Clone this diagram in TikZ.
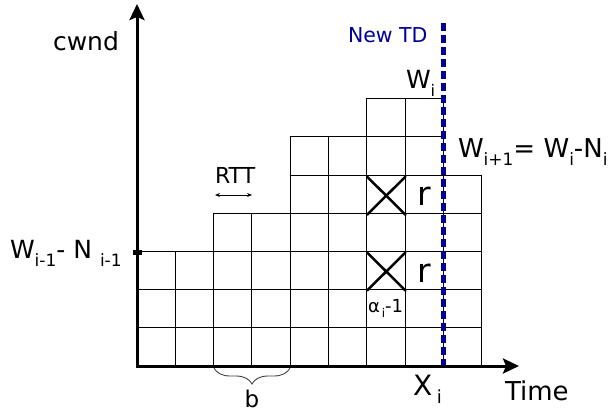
\documentclass[tikz,border=0pt]{standalone}
\usepackage{fontspec}
\setmainfont{DejaVu Sans}
\usetikzlibrary{arrows.meta,decorations.pathreplacing}
\definecolor{tdblue}{RGB}{0,0,150}
\newcommand\mysub[2]{\raisebox{-0.32em}{\fontsize{#1}{#1}\selectfont #2}}
\newcommand\fs[1]{\fontsize{#1}{#1}\selectfont}
\begin{document}
\begin{tikzpicture}[x=1pt,y=-1pt,
  cell/.style={draw=black,line width=1pt},
  axisline/.style={line width=3pt,{Stealth[length=16pt,width=15pt,inset=3pt]}-{Stealth[length=16pt,width=15pt,inset=3pt]}},
  cross/.style={line width=2.5pt,line cap=round},
  tdline/.style={draw=tdblue,line width=4.3pt,dash pattern=on 8pt off 4pt},
  lbl/.style={inner sep=0pt,outer sep=0pt}]
\useasboundingbox (0,0) rectangle (615,412);
% grid of cells
\foreach \c/\h in {0/3,1/3,2/4,3/4,4/6,5/6,6/7,7/7,8/5}{
  \foreach \r in {1,...,\h}{
    \draw[cell] ({137+38.3*\c},{366-38.2*(\r-1)}) rectangle ({137+38.3*(\c+1)},{366-38.2*\r});
  }
}
% crosses
\draw[cross] (367,214.8) -- (405.5,176.6) (367,176.6) -- (405.5,214.8);
\draw[cross] (367,290.6) -- (405.5,252.4) (367,252.4) -- (405.5,290.6);
% new TD line
\coordinate (tdtop) at (443.4,23);
\coordinate (tdbot) at (443.4,366);
\draw[tdline] (tdtop) -- (tdbot);
% axes
\coordinate (O) at (137,366);
\coordinate (ytop) at (137,4);
\coordinate (xend) at (519,366);
\draw[axisline] (ytop) -- (O) -- (xend);
% tick marker
\fill (133,250) rectangle (142,255);
% RTT arrow
\coordinate (rttL) at (215,195);
\coordinate (rttR) at (252,195);
\draw[line width=0.8pt,{Stealth[length=5pt,width=4pt]}-{Stealth[length=5pt,width=4pt]}] (rttL) -- (rttR);
% brace
\coordinate (brL) at (214,368);
\coordinate (brR) at (290,368);
\draw[line width=0.9pt,draw=black!75,decorate,decoration={brace,amplitude=16pt,mirror}] (brL) -- (brR);
% labels
\node[lbl,anchor=base west,font=\fs{25}] (cwnd) at (53,51) {cwnd};
\node[lbl,anchor=base west,font=\fs{20.5},text=tdblue] (newtd) at (348,42) {New TD};
\node[lbl,anchor=base west,font=\fs{25}] (wi) at (406,88) {W\mysub{16}{i}};
\node[lbl,anchor=base west,font=\fs{26}] (wnext) at (458,157) {W\mysub{17}{i+1}= W\mysub{17}{i}-N\mysub{17}{i}};
\node[lbl,anchor=base west,font=\fs{25}] (wprev) at (10,258) {W\mysub{17}{i-1}- N \mysub{17}{i-1}};
\node[lbl,anchor=base west,font=\fs{22}] (rtt) at (215,183) {RTT};
\node[lbl,anchor=base,font=\fs{33}] (r1) at (424,205) {r};
\node[lbl,anchor=base,font=\fs{33}] (r2) at (424,282) {r};
\node[lbl,anchor=base west,font=\fs{18}] (alpha) at (368,312) {α\mysub{12}{\,i}-1};
\node[lbl,anchor=base west,font=\fs{28}] (xi) at (413,395) {X\,\mysub{18}{i}};
\node[lbl,anchor=base west,font=\fs{26}] (time) at (505,400) {Time};
\node[lbl,anchor=base,font=\fs{23}] (b) at (252,407) {b};
\end{tikzpicture}
\end{document}
